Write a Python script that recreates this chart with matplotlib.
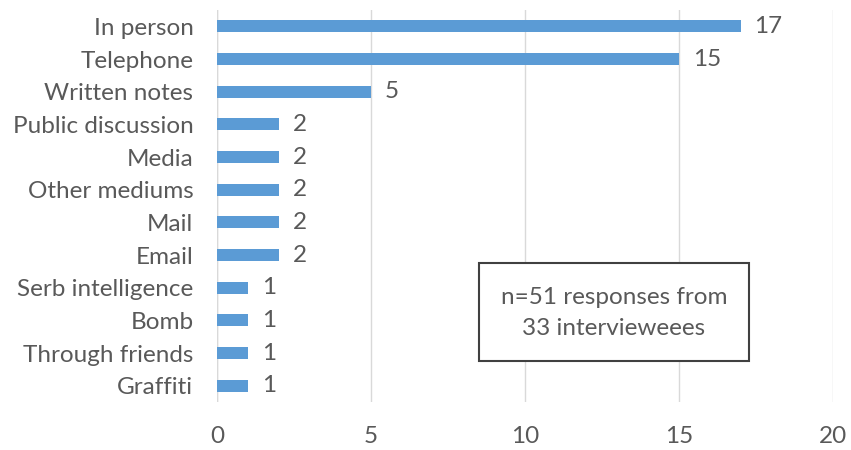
import matplotlib.pyplot as plt
from matplotlib.patches import Rectangle

categories = ["In person", "Telephone", "Written notes", "Public discussion", "Media",
              "Other mediums", "Mail", "Email", "Serb intelligence", "Bomb",
              "Through friends", "Graffiti"]
counts = [17, 15, 5, 2, 2, 2, 2, 2, 1, 1, 1, 1]
x_ticks = [0, 5, 10, 15, 20]
note = "n=51 responses from\n33 intervieweees"

plt.rcParams['font.family'] = ['Lato', 'DejaVu Sans']
text_col = '#595959'
fs = 17.5

fig = plt.figure(figsize=(8.51, 4.5), dpi=100)
ax = fig.add_axes([217 / 851, 1 - 402 / 450, (833 - 217) / 851, 392 / 450])

ypos = list(range(len(categories)))
ax.barh(ypos, counts, height=0.37, color='#5B9BD5', zorder=3)
for y, v in zip(ypos, counts):
    ax.text(v + 0.45, y, str(v), va='center', ha='left', fontsize=fs, color=text_col)

ax.set_ylim(len(categories) - 0.5, -0.5)
ax.set_xlim(0, 20)
ax.set_xticks(x_ticks)
ax.set_yticks(ypos)
ax.set_yticklabels(categories)
ax.tick_params(axis='both', length=0, labelsize=fs, labelcolor=text_col)
ax.tick_params(axis='y', pad=17)
ax.tick_params(axis='x', pad=17)
ax.grid(axis='x', color='#d9d9d9', linewidth=1, zorder=0)
for s in ax.spines.values():
    s.set_visible(False)
ax.axvline(0, color='#d9d9d9', linewidth=1, zorder=1)

# note box in figure coords
fig.patches.append(Rectangle((479 / 851, 1 - 361 / 450), 270 / 851, 98 / 450,
                             transform=fig.transFigure, fc='white', ec='#404040', lw=1.5, zorder=5))
fig.text(614 / 851, 1 - 313 / 450, note, ha='center', va='center', fontsize=fs,
         color=text_col, linespacing=1.55, zorder=6)

fig.savefig('out.png', dpi=100)
